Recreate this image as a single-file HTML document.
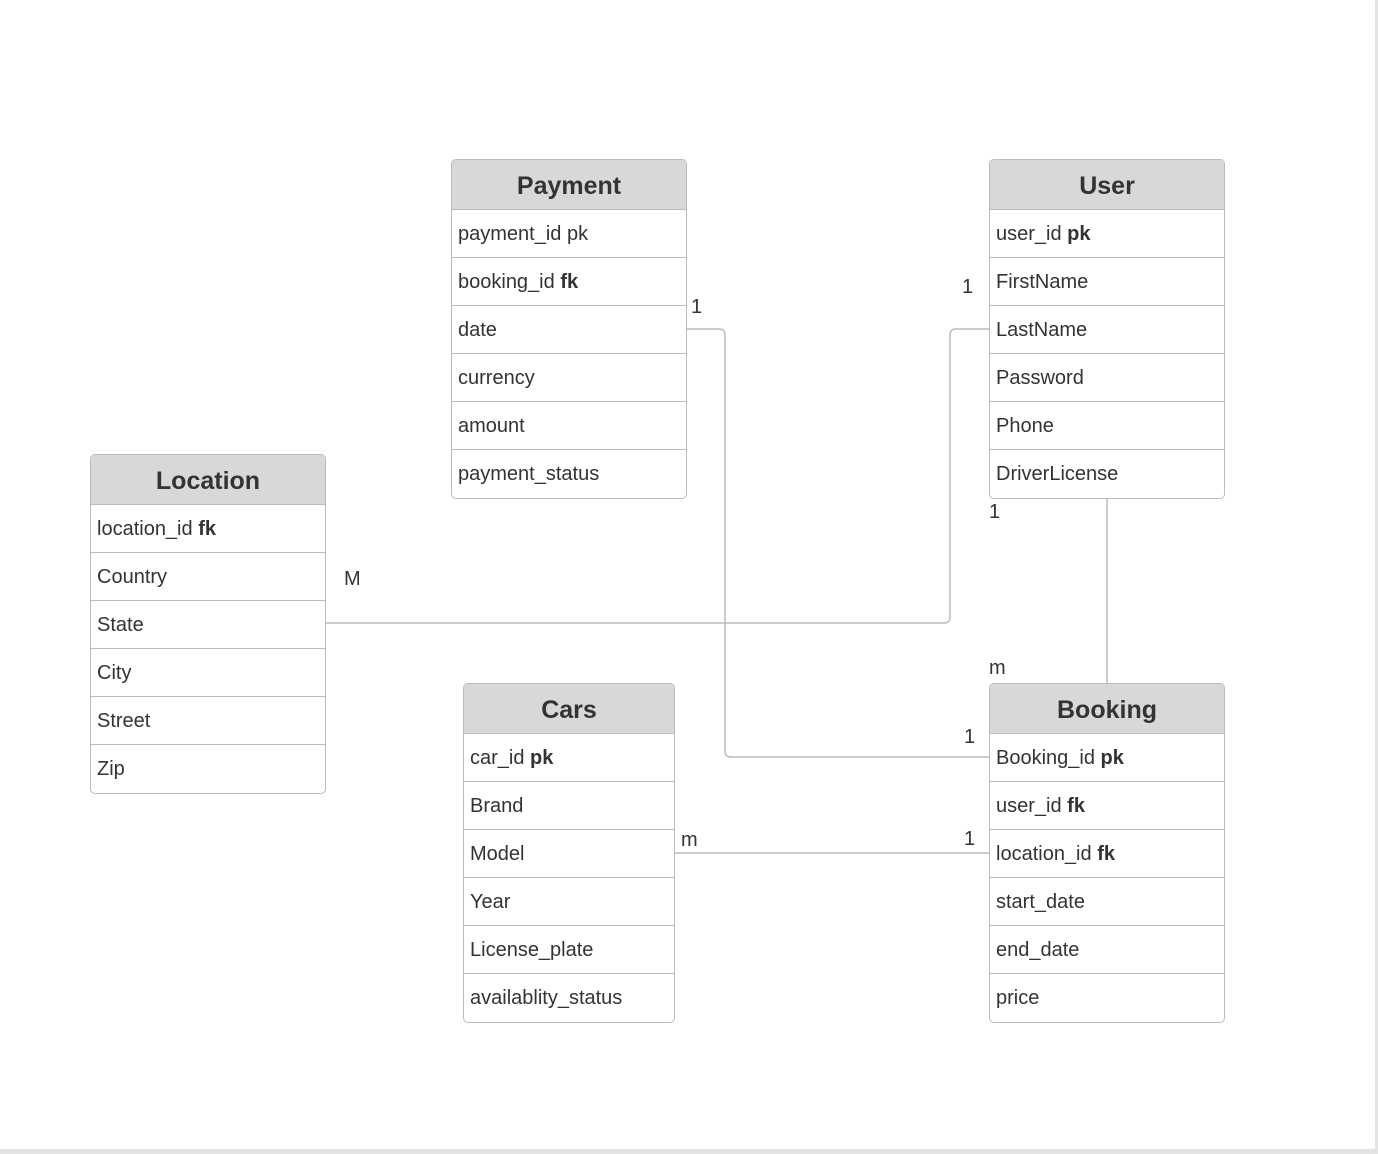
<!DOCTYPE html>
<html><head><meta charset="utf-8"><style>
html,body{margin:0;padding:0;}
body{width:1378px;height:1154px;position:relative;background:#fff;font-family:"Liberation Sans",Arial,sans-serif;color:#333;overflow:hidden;}
.edge-r{position:absolute;left:1375px;top:0;width:3px;height:1154px;background:#e4e4e4;}
.edge-b{position:absolute;left:0;top:1149px;width:1378px;height:5px;background:#e4e4e4;}
.t{position:absolute;border:1px solid #bcbcbc;border-radius:5px;overflow:hidden;background:#fff;box-sizing:border-box;}
.h{height:50px;background:#d8d8d8;border-bottom:1px solid #bcbcbc;box-sizing:border-box;text-align:center;font-weight:bold;font-size:25px;line-height:52px;color:#333;}
.r{height:48px;border-bottom:1px solid #bcbcbc;box-sizing:border-box;font-size:20px;line-height:48px;padding-left:6px;color:#333;}
.r:last-child{border-bottom:none;}
.l{position:absolute;font-size:20px;color:#333;}
svg{position:absolute;left:0;top:0;}
</style></head><body>
<svg width="1378" height="1154"><g fill="none" stroke="#bcbcbc" stroke-width="1.5">
<path d="M686 329 H719 Q725 329 725 335 V751 Q725 757 731 757 H989"/>
<path d="M325 623 H944 Q950 623 950 617 V335 Q950 329 956 329 H989"/>
<path d="M1107 498 V683"/>
<path d="M674 853 H989"/>
</g></svg>
<div class="t" style="left:451px;top:159px;width:236px;height:340px">
<div class="h">Payment</div><div class="r">payment_id pk</div><div class="r">booking_id <b>fk</b></div><div class="r">date</div><div class="r">currency</div><div class="r">amount</div><div class="r">payment_status</div></div>
<div class="t" style="left:989px;top:159px;width:236px;height:340px">
<div class="h">User</div><div class="r">user_id <b>pk</b></div><div class="r">FirstName</div><div class="r">LastName</div><div class="r">Password</div><div class="r">Phone</div><div class="r">DriverLicense</div></div>
<div class="t" style="left:90px;top:454px;width:236px;height:340px">
<div class="h">Location</div><div class="r">location_id <b>fk</b></div><div class="r">Country</div><div class="r">State</div><div class="r">City</div><div class="r">Street</div><div class="r">Zip</div></div>
<div class="t" style="left:463px;top:683px;width:212px;height:340px">
<div class="h">Cars</div><div class="r">car_id <b>pk</b></div><div class="r">Brand</div><div class="r">Model</div><div class="r">Year</div><div class="r">License_plate</div><div class="r">availablity_status</div></div>
<div class="t" style="left:989px;top:683px;width:236px;height:340px">
<div class="h">Booking</div><div class="r">Booking_id <b>pk</b></div><div class="r">user_id <b>fk</b></div><div class="r">location_id <b>fk</b></div><div class="r">start_date</div><div class="r">end_date</div><div class="r">price</div></div>
<div class="l" style="left:691px;top:296px">1</div>
<div class="l" style="left:962px;top:276px">1</div>
<div class="l" style="left:344px;top:568px">M</div>
<div class="l" style="left:989px;top:501px">1</div>
<div class="l" style="left:989px;top:657px">m</div>
<div class="l" style="left:964px;top:726px">1</div>
<div class="l" style="left:681px;top:829px">m</div>
<div class="l" style="left:964px;top:828px">1</div>
<div class="edge-r"></div><div class="edge-b"></div>
</body></html>
